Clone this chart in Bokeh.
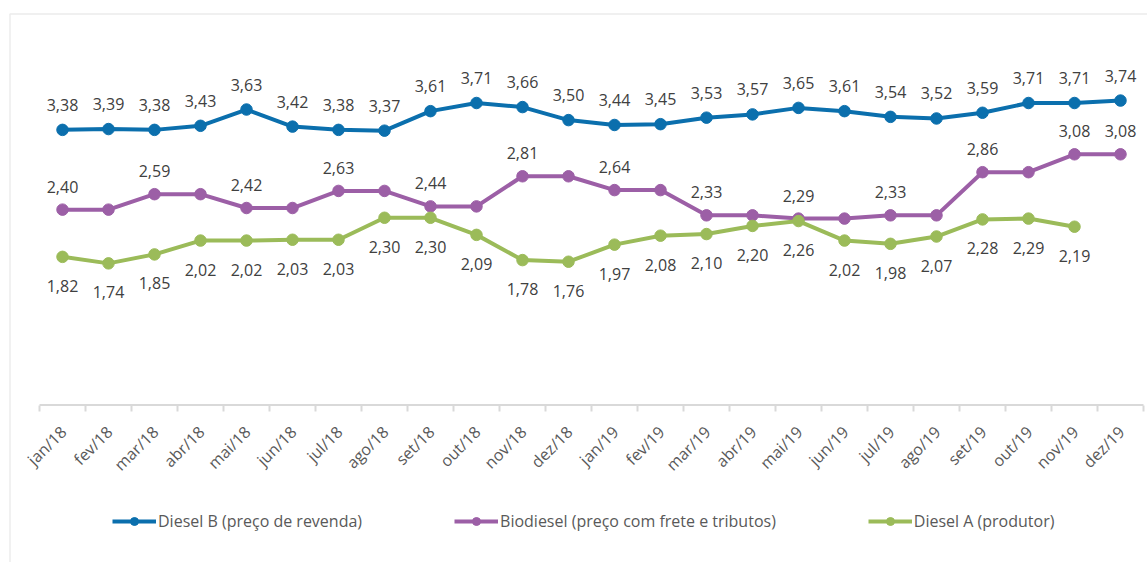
import math
from bokeh.plotting import figure
from bokeh.models import (Range1d, LinearAxis, FixedTicker, Legend, LegendItem,
                          ColumnDataSource, BoxAnnotation)
from bokeh.core.properties import value
from bokeh.embed import file_html
from bokeh.resources import INLINE

months = ["jan/18", "fev/18", "mar/18", "abr/18", "mai/18", "jun/18", "jul/18", "ago/18",
          "set/18", "out/18", "nov/18", "dez/18", "jan/19", "fev/19", "mar/19", "abr/19",
          "mai/19", "jun/19", "jul/19", "ago/19", "set/19", "out/19", "nov/19", "dez/19"]

diesel_b = [3.38, 3.39, 3.38, 3.43, 3.63, 3.42, 3.38, 3.37, 3.61, 3.71, 3.66, 3.50,
            3.44, 3.45, 3.53, 3.57, 3.65, 3.61, 3.54, 3.52, 3.59, 3.71, 3.71, 3.74]
biodiesel = [2.40, 2.40, 2.59, 2.59, 2.42, 2.42, 2.63, 2.63, 2.44, 2.44, 2.81, 2.81,
             2.64, 2.64, 2.33, 2.33, 2.29, 2.29, 2.33, 2.33, 2.86, 2.86, 3.08, 3.08]
biodiesel_label_shown = [True, False, True, False, True, False, True, False, True, False,
                         True, False, True, False, True, False, True, False, True, False,
                         True, False, True, True]
diesel_a = [1.82, 1.74, 1.85, 2.02, 2.02, 2.03, 2.03, 2.30, 2.30, 2.09, 1.78, 1.76,
            1.97, 2.08, 2.10, 2.20, 2.26, 2.02, 1.98, 2.07, 2.28, 2.29, 2.19, float("nan")]

names = ["Diesel B (preço de revenda)", "Biodiesel (preço com frete e tributos)",
         "Diesel A (produtor)"]
colors = ["#0b6fad", "#9c5fa6", "#9bbb59"]

FONT = "Open Sans"
n = len(months)
xs = [i + 0.5 for i in range(n)]

# frame covers the whole canvas; ranges chosen so the category band spans 39..1143 px
W, H = 1147, 562
cat_px = (1143 - 39) / n
y_px = 81.4
axis_px = 404.5
p = figure(width=W, height=H, output_backend="svg", toolbar_location=None,
           x_range=Range1d(-39 / cat_px, n + (W - 1143) / cat_px),
           y_range=Range1d(-(H - axis_px) / y_px, axis_px / y_px),
           x_axis_location=None, y_axis_location=None,
           min_border_left=0, min_border_right=0, min_border_top=0, min_border_bottom=0)
p.xgrid.visible = False
p.ygrid.visible = False
p.outline_line_color = None
p.background_fill_color = "white"
p.border_fill_color = "white"

# outer chart-area border
p.add_layout(BoxAnnotation(left=9.5, right=1300, top=13.5, bottom=900,
                           left_units="canvas", right_units="canvas",
                           top_units="canvas", bottom_units="canvas",
                           fill_alpha=0, line_color="#bfbfbf", line_width=1.5,
                           level="underlay", editable=False))

def fmt(v):
    return ("%.2f" % v).replace(".", ",")

# category axis line and ticks (ticks between categories)
p.segment(x0=[0], y0=[0], x1=[n], y1=[0], line_color="#d9d9d9", line_width=2)
tick_axis = LinearAxis(ticker=FixedTicker(ticks=list(range(n + 1))),
                       fixed_location=0, major_label_text_alpha=0,
                       axis_line_color=None,
                       major_tick_line_color="#d9d9d9", major_tick_line_width=2,
                       major_tick_out=6, major_tick_in=0,
                       minor_tick_line_color=None)
p.add_layout(tick_axis, "below")

renderers = []
series = [diesel_b, biodiesel, diesel_a]
for vals, col in zip(series, colors):
    src = ColumnDataSource(dict(x=xs, y=vals))
    lr = p.line("x", "y", source=src, line_color=col, line_width=4)
    sr = p.scatter("x", "y", source=src, size=11.5, fill_color=col, line_color=col)
    renderers.append([lr, sr])

def add_labels(vals, shown, yoff):
    lx, ly, lt = [], [], []
    for x, v, s in zip(xs, vals, shown):
        if s and not math.isnan(v):
            lx.append(x); ly.append(v); lt.append(fmt(v))
    p.text(lx, ly, text=lt, y_offset=yoff, text_align="center", text_baseline="middle",
           text_font=value(FONT), text_font_size="16px", text_color="#404040")

add_labels(diesel_b, [True] * n, -25)
add_labels(biodiesel, biodiesel_label_shown, -23)
add_labels(diesel_a, [True] * n, 29)

# category labels, rotated 45 degrees, ending just below the axis
p.text(xs, [0] * n, text=months, angle=math.pi / 4,
       text_align="right", text_baseline="middle", y_offset=24, x_offset=1,
       text_font=value(FONT), text_font_size="16px", text_color="#595959")

legend = Legend(items=[LegendItem(label=nm, renderers=r) for nm, r in zip(names, renderers)],
                orientation="horizontal", location=(112, 30),
                border_line_color=None, background_fill_alpha=0,
                label_text_font=FONT, label_text_font_size="16px",
                label_text_color="#595959", spacing=92, glyph_width=44,
                glyph_height=20, label_standoff=2, padding=0, margin=0)
p.add_layout(legend, "center")

open("out.html", "w").write(file_html(p, INLINE))
